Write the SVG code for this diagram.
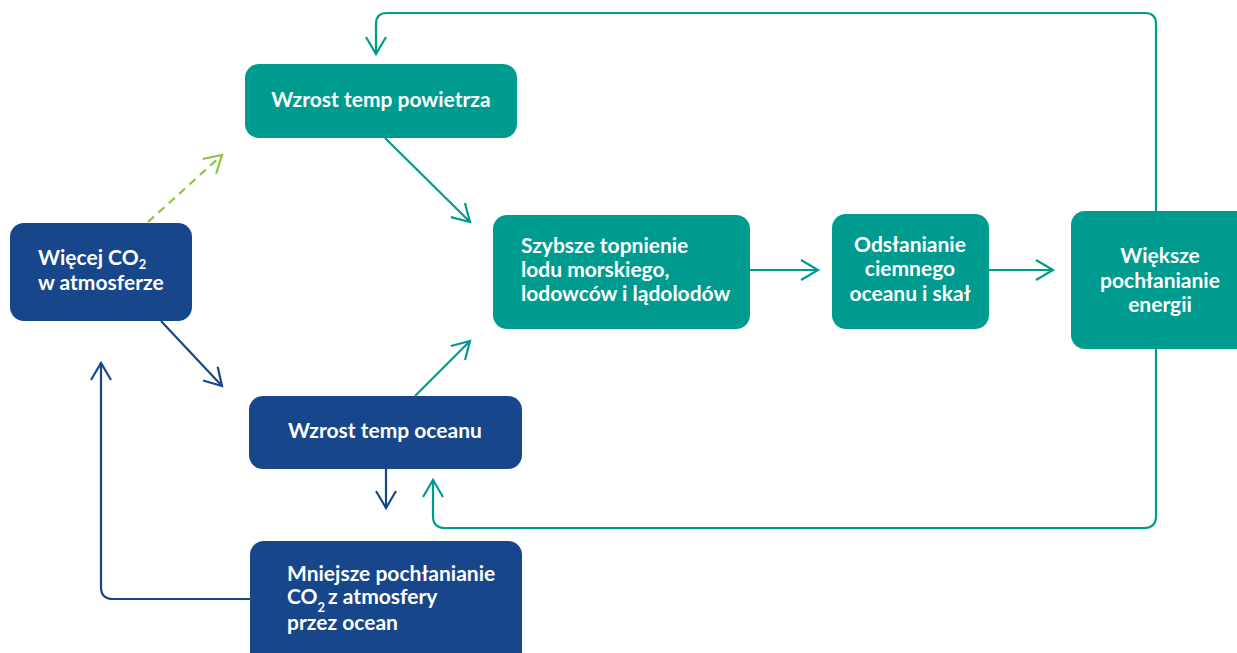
<svg xmlns="http://www.w3.org/2000/svg" width="1237" height="653" viewBox="0 0 1237 653">
<style>
.t{fill:#009b8f}
.b{fill:#18468a}
text{font-family:Lato,"Liberation Sans",sans-serif;font-weight:700;font-size:21px;fill:#fff}
.c{text-anchor:middle}
.sub{font-size:13px}
.lt{fill:none;stroke:#009b8f;stroke-width:2.2}
.lb{fill:none;stroke:#18468a;stroke-width:2.2}
.lg{fill:none;stroke:#8cc63f;stroke-width:2.2;stroke-dasharray:8 6}
</style>
<defs>
<marker id="at" markerUnits="userSpaceOnUse" markerWidth="30" markerHeight="30" viewBox="-20 -15 30 30" refX="0" refY="0" orient="auto"><path d="M-17,-10 L0,0 L-17,10" fill="none" stroke="#009b8f" stroke-width="2.2"/></marker>
<marker id="ab" markerUnits="userSpaceOnUse" markerWidth="30" markerHeight="30" viewBox="-20 -15 30 30" refX="0" refY="0" orient="auto"><path d="M-17,-10 L0,0 L-17,10" fill="none" stroke="#18468a" stroke-width="2.2"/></marker>
<marker id="ag" markerUnits="userSpaceOnUse" markerWidth="30" markerHeight="30" viewBox="-20 -15 30 30" refX="0" refY="0" orient="auto"><path d="M-17,-10 L0,0 L-17,10" fill="none" stroke="#8cc63f" stroke-width="2.2"/></marker>
</defs>
<g id="connectors">
<path class="lg" d="M148,222 L222,155" marker-end="url(#ag)"/>
<path class="lb" d="M161,321 L222,386" marker-end="url(#ab)"/>
<path class="lt" d="M385,138 L470,222" marker-end="url(#at)"/>
<path class="lt" d="M415,396 L470,341" marker-end="url(#at)"/>
<path class="lt" d="M750,270 L818,270" marker-end="url(#at)"/>
<path class="lt" d="M989,270 L1053,270" marker-end="url(#at)"/>
<path class="lt" d="M1156,211 L1156,24 Q1156,13 1145,13 L387,13 Q376,13 376,24 L376,54" marker-end="url(#at)"/>
<path class="lt" d="M1156,349 L1156,516 Q1156,528 1144,528 L445,528 Q433,528 433,516 L433,480" marker-end="url(#at)"/>
<path class="lb" d="M386,469 L386,508" marker-end="url(#ab)"/>
<path class="lb" d="M250,599 L113,599 Q101,599 101,587 L101,363" marker-end="url(#ab)"/>
</g>
<g id="n-co2">
<rect class="b" x="10" y="223" width="182" height="98" rx="14"/>
<text x="38" y="265">Więcej CO<tspan class="sub" baseline-shift="-4">2</tspan></text>
<text x="38" y="290">w atmosferze</text>
</g>
<g id="n-powietrza">
<rect class="t" x="245" y="64" width="272" height="74" rx="14"/>
<text class="c" x="381" y="107">Wzrost temp powietrza</text>
</g>
<g id="n-oceanu">
<rect class="b" x="249" y="396" width="273" height="73" rx="14"/>
<text class="c" x="385" y="438">Wzrost temp oceanu</text>
</g>
<g id="n-mniejsze">
<rect class="b" x="250" y="541" width="272" height="125" rx="14"/>
<text x="287" y="581">Mniejsze pochłanianie</text>
<text x="287" y="604">CO<tspan class="sub" baseline-shift="-8">2</tspan><tspan dx="3">z atmosfery</tspan></text>
<text x="287" y="630">przez ocean</text>
</g>
<g id="n-szybsze">
<rect class="t" x="493" y="215" width="257" height="114" rx="14"/>
<text x="521" y="253">Szybsze topnienie</text>
<text x="521" y="277">lodu morskiego,</text>
<text x="521" y="301">lodowców i lądolodów</text>
</g>
<g id="n-odslanianie">
<rect class="t" x="832" y="214" width="157" height="115" rx="14"/>
<text class="c" x="910" y="252">Odsłanianie</text>
<text class="c" x="910" y="276">ciemnego</text>
<text class="c" x="910" y="301">oceanu i skał</text>
</g>
<g id="n-wieksze">
<rect class="t" x="1071" y="211" width="190" height="138" rx="14"/>
<text class="c" x="1160" y="263">Większe</text>
<text class="c" x="1160" y="288">pochłanianie</text>
<text class="c" x="1160" y="312">energii</text>
</g>
</svg>
